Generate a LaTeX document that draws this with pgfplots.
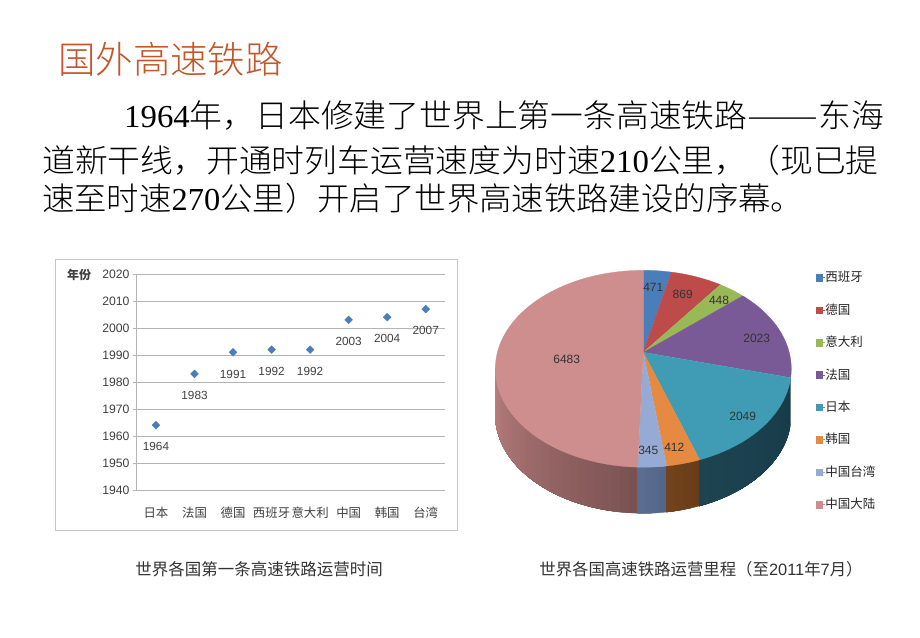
\documentclass[border=0pt]{standalone}
\usepackage{fontspec}
\usepackage{pgfplots}
\usepackage{pgfplotstable}
\pgfplotsset{compat=1.18}
\setmainfont{Liberation Sans}
\newfontfamily\cjk{Noto Sans CJK SC}
\newfontfamily\cjkl{Noto Sans CJK SC Light}
\newfontfamily\serifd{Liberation Serif}
\newcommand\fs[1]{\fontsize{#1}{#1}\selectfont}
\definecolor{cA}{HTML}{4A7EBB}
\definecolor{cB}{HTML}{BC4B49}
\definecolor{cC}{HTML}{98B955}
\definecolor{cD}{HTML}{7A5A96}
\definecolor{cE}{HTML}{3F9CB4}
\definecolor{cF}{HTML}{E58A40}
\definecolor{cG}{HTML}{95ABD6}
\definecolor{cH}{HTML}{CE8E8E}
\definecolor{wEa}{RGB}{22,58,72}
\definecolor{wEb}{RGB}{30,68,82}
\definecolor{wFa}{RGB}{104,60,24}
\definecolor{wFb}{RGB}{116,68,28}
\definecolor{wGa}{RGB}{82,100,134}
\definecolor{wGb}{RGB}{92,112,148}
\definecolor{wHa}{RGB}{122,82,82}
\definecolor{wHb}{RGB}{188,128,128}
\definecolor{tx}{HTML}{404040}
\definecolor{grid}{HTML}{B4B4B4}
\pgfplotstableread{
value
471
869
448
2023
2049
412
345
6483
}\piedata
% perspective pie: centre and projective map fitted to the picture
\newcommand\arcpts[3]{%
  \pgfmathtruncatemacro\nn{max(2,ceil(abs(#2-#1)/2))}%
  \foreach \k in {0,...,\nn}{%
    \pgfmathsetmacro\pp{#1+(#2-#1)*\k/\nn}%
    \pgfmathsetmacro\dd{1+0.1674*cos(\pp)}%
    \pgfmathsetmacro\xx{643.3+145.9*sin(\pp)/\dd}%
    \pgfmathsetmacro\yy{352.3-95.7*cos(\pp)/\dd+#3}%
    \xdef\clist{\clist (\xx,\yy)}%
  }}
\newcommand\polyplot[1]{%
  \edef\temp{\noexpand\addplot[forget plot,fill=#1,draw=#1,line width=0.3pt] coordinates {\clist};}\temp}
\newcommand\topslice[3]{%
  \xdef\clist{(643.3,352.3)}\arcpts{#1}{#2}{0}\polyplot{#3}}
% each band is painted up to the far end of the wall, so no seam is left between bands
\newcommand\wall[4]{%
  \pgfmathtruncatemacro\mm{max(1,ceil((#2-#1)/3))}%
  \foreach \j in {1,...,\mm}{%
    \pgfmathsetmacro\pa{#1+(#2-#1)*(\j-1)/\mm}%
    \pgfmathtruncatemacro\pct{100*(\j-0.5)/\mm}%
    \xdef\clist{}\arcpts{\pa}{#2}{0}\arcpts{#2}{\pa}{46}%
    \polyplot{#4!\pct!#3}%
  }}
\newcommand\angles{%
  \gdef\cum{0}\expandafter\xdef\csname phi0\endcsname{0}%
  \foreach \r in {0,...,7}{%
    \pgfplotstablegetelem{\r}{value}\of\piedata
    \pgfmathsetmacro\cc{\cum+\pgfplotsretval}\xdef\cum{\cc}%
    \pgfmathtruncatemacro\rr{\r+1}%
    \pgfmathsetmacro\aa{\cum/13100*360}%
    \expandafter\xdef\csname phi\rr\endcsname{\aa}%
  }}
\newcommand\ph[1]{\csname phi#1\endcsname}
\begin{document}
\begin{tikzpicture}
\path[use as bounding box,fill=white] (0,0) rectangle (920pt,637pt);
\begin{axis}[at={(0pt,0pt)},anchor=south west,width=920pt,height=637pt,scale only axis,
  xmin=0,xmax=920,ymin=0,ymax=637,y dir=reverse,hide axis,clip=false,
  legend style={at={(axis cs:815.5,271.3)},anchor=north west,draw=none,fill=none,
    row sep=19.7pt,inner sep=0pt,outer sep=0pt,
    nodes={inner sep=0pt,text height=10.5pt,text depth=2.2pt,font=\cjk\fs{12.5}\color{black!85}}},
  legend cell align=left,
  legend image code/.code={\fill[#1] (0pt,-3.3pt) rectangle (6.6pt,3.3pt);\path (0pt,0pt) -- (9.5pt,0pt);}]
\angles
% frame of the left chart
\draw[color=black!22,line width=0.8pt] (axis cs:55,259) rectangle (axis cs:457.5,530);
% side walls
\wall{\ph{7}}{260.4}{wHa}{wHb}
\wall{\ph{6}}{\ph{7}}{wGa}{wGb}
\wall{\ph{5}}{\ph{6}}{wFa}{wFb}
\wall{\ph{4}}{\ph{5}}{wEa}{wEb}
% top faces
\topslice{\ph{0}}{\ph{1}}{cA}
\topslice{\ph{1}}{\ph{2}}{cB}
\topslice{\ph{2}}{\ph{3}}{cC}
\topslice{\ph{3}}{\ph{4}}{cD}
\topslice{\ph{4}}{\ph{5}}{cE}
\topslice{\ph{5}}{\ph{6}}{cF}
\topslice{\ph{6}}{\ph{7}}{cG}
\topslice{\ph{7}}{\ph{8}}{cH}
\addlegendimage{cA}\addlegendentry{西班牙}
\addlegendimage{cB}\addlegendentry{德国}
\addlegendimage{cC}\addlegendentry{意大利}
\addlegendimage{cD}\addlegendentry{法国}
\addlegendimage{cE}\addlegendentry{日本}
\addlegendimage{cF}\addlegendentry{韩国}
\addlegendimage{cG}\addlegendentry{中国台湾}
\addlegendimage{cH}\addlegendentry{中国大陆}
% pie labels
\tikzset{pl/.style={font=\fs{12},text=black!80,inner sep=0pt}}
\node[pl] at (axis cs:653.3,287.3) {471};
\node[pl] at (axis cs:682.7,294) {869};
\node[pl] at (axis cs:719,300) {448};
\node[pl] at (axis cs:756.7,338.3) {2023};
\node[pl] at (axis cs:742.7,416) {2049};
\node[pl] at (axis cs:674.3,447.7) {412};
\node[pl] at (axis cs:648.3,450.7) {345};
\node[pl] at (axis cs:566.7,359) {6483};
% texts
\node[anchor=base west,inner sep=0pt,text={rgb,255:red,196;green,86;blue,42}] at (axis cs:58,73) {\cjkl\fs{37.4}国外高速铁路};
\tikzset{para/.style={anchor=base west,inner sep=0pt,text=black}}
\node[para] at (axis cs:124,127) {\scalebox{1.025}[1]{\fs{32}{\serifd 1964}\cjkl 年，日本修建了世界上第一条高速铁路\scalebox{1.3}[1]{——}东海}};
\node[para] at (axis cs:42,172) {\scalebox{1.025}[1]{\fs{32}\cjkl 道新干线，开通时列车运营速度为时速{\serifd 210}公里，（现已提}};
\node[para] at (axis cs:42,210) {\scalebox{1.012}[1]{\fs{32}\cjkl 速至时速{\serifd 270}公里）开启了世界高速铁路建设的序幕。}};
\node[anchor=center,inner sep=0pt,text=black!80] at (axis cs:259,569) {\cjk\fs{16.5}世界各国第一条高速铁路运营时间};
\node[anchor=center,inner sep=0pt,text=black!80] at (axis cs:701,569) {\fs{16.4}{\cjk 世界各国高速铁路运营里程（至}2011{\cjk 年}7{\cjk 月）}};
\node[anchor=center,inner sep=0pt,text=tx] at (axis cs:79,275) {\cjk\fs{12}\bfseries 年份};
\end{axis}
% scatter chart
\begin{axis}[at={(136.7pt,147pt)},anchor=south west,width=308.3pt,height=216pt,scale only axis,
  xmin=0,xmax=8,ymin=1940,ymax=2020,
  axis lines*=left,axis line style={-,color=grid,line width=0.8pt},
  ymajorgrids,grid style={color=grid,line width=0.8pt},
  ytick={1940,1950,...,2020},
  xtick={0.5,1.5,...,7.5},
  xticklabels={日本,法国,德国,西班牙,意大利,中国,韩国,台湾},
  minor xtick={0,1,...,8},
  tick align=outside,
  xtick style={draw=none},
  minor tick style={color=grid,line width=0.8pt},
  ytick style={color=grid,line width=0.8pt},
  major tick length=4pt,minor tick length=4pt,
  xminorticks=true,
  xticklabel style={font=\cjk\fs{12.4},text=tx,text height=10pt,text depth=2pt,inner sep=0pt,yshift=-13pt},
  yticklabel style={font=\fs{12.2},text=tx,inner sep=0pt,xshift=-3pt,
    /pgf/number format/.cd,1000 sep={},assume math mode=true},
  clip=false]
\addplot[only marks,mark=diamond*,mark size=3.9pt,mark options={fill=cA,draw=cA,xscale=1.33},
  point meta=y,
  nodes near coords={\pgfmathprintnumber[1000 sep={},assume math mode=true]{\pgfplotspointmeta}},
  nodes near coords style={font=\fs{11.8},text=tx,anchor=center,yshift=-21.7pt,inner sep=0pt}]
  coordinates {(0.5,1964)(1.5,1983)(2.5,1991)(3.5,1992)(4.5,1992)(5.5,2003)(6.5,2004)(7.5,2007)};
\end{axis}
\end{tikzpicture}
\end{document}
